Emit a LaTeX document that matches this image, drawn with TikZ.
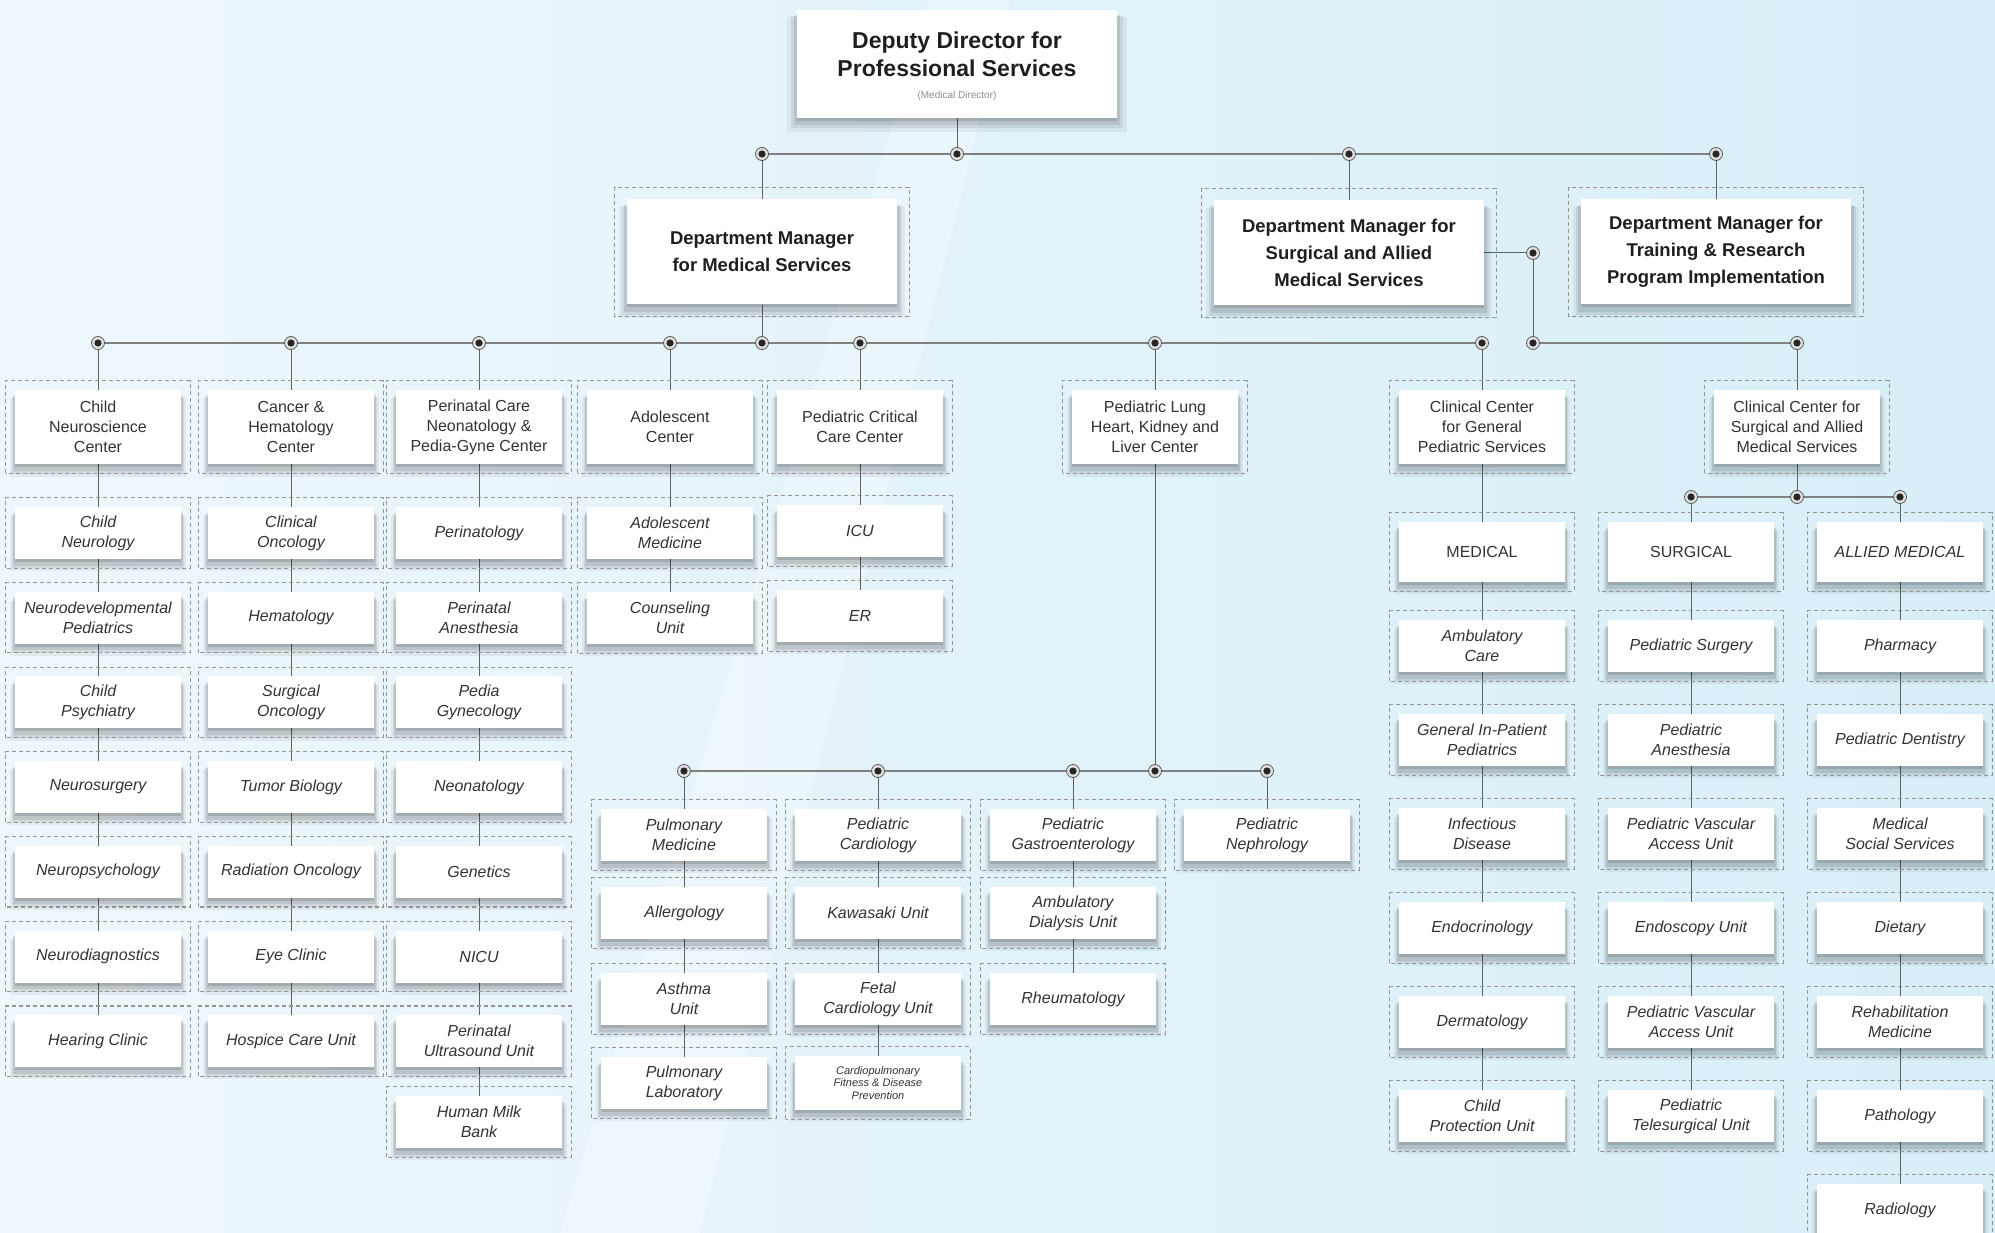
\documentclass[tikz,border=0pt]{standalone}
\usepackage{fontspec}
\setmainfont{Liberation Sans}
\usetikzlibrary{shadows}
\pgfdeclarelayer{bgl}
\pgfdeclarelayer{lines}
\pgfsetlayers{bgl,lines,main}
\definecolor{bgA}{HTML}{EEF7FB}
\definecolor{bgB}{HTML}{B9DEF0}
\definecolor{bgC}{HTML}{D8EEF7}
\newcommand\orgbox[4]{%
  \node[#1] (#2) at (#3) {#4};
  \draw[frame] ([shift={(-9pt,-9pt)}]#2.south west) rectangle ([shift={(9pt,9pt)}]#2.north east);}
\begin{document}
\begin{tikzpicture}[x=1pt,y=-1pt,
  shadowed/.style={
    general shadow={shadow xshift=0pt,shadow yshift=-10pt,shadow scale=1.06,opacity=0.05,fill=black},
    general shadow={shadow xshift=0pt,shadow yshift=-8pt,shadow scale=1.04,opacity=0.07,fill=black},
    general shadow={shadow xshift=0pt,shadow yshift=-6pt,shadow scale=1.02,opacity=0.09,fill=black},
    general shadow={shadow xshift=0pt,shadow yshift=-3pt,opacity=0.12,fill=black}},
  frame/.style={draw=black!42,line width=1.1pt,dash pattern=on 4pt off 3pt},
  basebox/.style={shadowed,fill=white,minimum width=166pt,align=center,inner sep=2pt,text=black!80},
  hdr/.style={basebox,minimum height=74pt,font=\fontsize{16}{20}\selectfont},
  sub/.style={basebox,minimum height=52pt,font=\fontsize{16}{20}\selectfont\itshape},
  cat/.style={basebox,minimum height=60pt,font=\fontsize{16}{20}\selectfont},
  tiny/.style={basebox,minimum height=54pt,font=\fontsize{11}{12.5}\selectfont\itshape},
  mgr/.style={shadowed,fill=white,minimum width=270pt,minimum height=105pt,align=center,text=black!88,font=\fontsize{18.5}{27}\selectfont\bfseries},
  topbox/.style={shadowed,fill=white,minimum width=320pt,minimum height=108pt,inner sep=0pt},
  dot/.style={circle,draw=black!65,line width=0.8pt,fill=black!12,minimum size=13pt,inner sep=0pt,
    path picture={\fill[black!85] (path picture bounding box.center) circle (3.6pt);}},
  hline/.style={draw=black!50,line width=1.6pt},
  vline/.style={draw=black!62,line width=1pt}]
\begin{pgfonlayer}{bgl}
\shade[left color=bgA,middle color=bgB,right color=bgC] (0,0) rectangle (1995,1233);
\fill[white,opacity=0.25] (930,0) -- (1010,0) -- (700,1233) -- (560,1233) -- cycle;
\end{pgfonlayer}
\useasboundingbox (0,0) rectangle (1995,1233);

% ---------- top ----------
\node[topbox] (top) at (957,64) {};
\node[font=\fontsize{23}{28}\selectfont\bfseries,text=black!88,align=center] (toptxt) at (957,54) {Deputy Director for\\Professional Services};
\node[font=\fontsize{10}{12}\selectfont,text=black!45] (topsub) at (957,96) {(Medical Director)};

\node[dot] (dT) at (957,154) {};
\node[dot] (d1) at (762,154) {};
\node[dot] (d3) at (1349,154) {};
\node[dot] (d4) at (1716,154) {};

% ---------- managers ----------
\node[mgr] (mMed) at (762,252) {Department Manager\\for Medical Services};
\node[mgr] (mSur) at (1349,253) {Department Manager for\\Surgical and Allied\\Medical Services};
\node[mgr] (mTr) at (1716,252) {Department Manager for\\Training \& Research\\Program Implementation};
\foreach \n in {mMed,mSur,mTr}
  \draw[frame] ([shift={(-12pt,-12pt)}]\n.south west) rectangle ([shift={(12pt,12pt)}]\n.north east);

\node[dot] (dS1) at (1533,253) {};
\node[dot] (dS2) at (1533,343) {};

% ---------- medical line dots ----------
\node[dot] (dA) at (98,343) {};
\node[dot] (dB) at (291,343) {};
\node[dot] (dC) at (479,343) {};
\node[dot] (dD) at (670,343) {};
\node[dot] (dM) at (762,343) {};
\node[dot] (dE) at (860,343) {};
\node[dot] (dL) at (1155,343) {};
\node[dot] (dG) at (1482,343) {};
\node[dot] (dCS) at (1797,343) {};

% ---------- headers ----------
\orgbox{hdr}{a0}{98,427}{Child\\Neuroscience\\Center}
\orgbox{hdr}{b0}{291,427}{Cancer \&\\Hematology\\Center}
\orgbox{hdr}{c0}{479,427}{Perinatal Care\\Neonatology \&\\Pedia-Gyne Center}
\orgbox{hdr}{e0}{670,427}{Adolescent\\Center}
\orgbox{hdr}{f0}{860,427}{Pediatric Critical\\Care Center}
\orgbox{hdr}{l0}{1155,427}{Pediatric Lung\\Heart, Kidney and\\Liver Center}
\orgbox{hdr}{g0}{1482,427}{Clinical Center\\for General\\Pediatric Services}
\orgbox{hdr}{s0}{1797,427}{Clinical Center for\\Surgical and Allied\\Medical Services}

% ---------- column A ----------
\foreach \k/\t in {1/{Child\\Neurology},2/{Neurodevelopmental\\Pediatrics},3/{Child\\Psychiatry},4/{Neurosurgery},5/{Neuropsychology},6/{Neurodiagnostics},7/{Hearing Clinic}}
  {\orgbox{sub}{a\k}{98,{533+84.7*(\k-1)}}{\t}}
% ---------- column B ----------
\foreach \k/\t in {1/{Clinical\\Oncology},2/{Hematology},3/{Surgical\\Oncology},4/{Tumor Biology},5/{Radiation Oncology},6/{Eye Clinic},7/{Hospice Care Unit}}
  {\orgbox{sub}{b\k}{291,{533+84.7*(\k-1)}}{\t}}
% ---------- column C ----------
\foreach \k/\t in {1/{Perinatology},2/{Perinatal\\Anesthesia},3/{Pedia\\Gynecology},4/{Neonatology},5/{Genetics},6/{NICU},7/{Perinatal\\Ultrasound Unit}}
  {\orgbox{sub}{c\k}{479,{533+84.7*(\k-1)}}{\t}}
\orgbox{sub}{c8}{479,1122}{Human Milk\\Bank}
% ---------- columns D, E ----------
\orgbox{sub}{e1}{670,533}{Adolescent\\Medicine}
\orgbox{sub}{e2}{670,618}{Counseling\\Unit}
\orgbox{sub}{f1}{860,531}{ICU}
\orgbox{sub}{f2}{860,616}{ER}

% ---------- lung sub-centers ----------
\node[dot] (dP1) at (684,771) {};
\node[dot] (dP2) at (878,771) {};
\node[dot] (dP3) at (1073,771) {};
\node[dot] (dL2) at (1155,771) {};
\node[dot] (dP4) at (1267,771) {};
\orgbox{sub}{p1}{684,835}{Pulmonary\\Medicine}
\orgbox{sub}{p2}{684,913}{Allergology}
\orgbox{sub}{p3}{684,999}{Asthma\\Unit}
\orgbox{sub}{p4}{684,1083}{Pulmonary\\Laboratory}
\orgbox{sub}{q1}{878,835}{Pediatric\\Cardiology}
\orgbox{sub}{q2}{878,913}{Kawasaki Unit}
\orgbox{sub}{q3}{878,999}{Fetal\\Cardiology Unit}
\orgbox{tiny}{q4}{878,1083}{Cardiopulmonary\\Fitness \& Disease\\Prevention}
\orgbox{sub}{r1}{1073,835}{Pediatric\\Gastroenterology}
\orgbox{sub}{r2}{1073,913}{Ambulatory\\Dialysis Unit}
\orgbox{sub}{r3}{1073,999}{Rheumatology}
\orgbox{sub}{n1}{1267,835}{Pediatric\\Nephrology}

% ---------- right side ----------
\node[dot] (dX1) at (1691,497) {};
\node[dot] (dX2) at (1797,497) {};
\node[dot] (dX3) at (1900,497) {};
\orgbox{cat}{g1}{1482,552}{MEDICAL}
\orgbox{cat}{u1}{1691,552}{SURGICAL}
\orgbox{cat}{v1}{1900,552}{\itshape ALLIED MEDICAL}
\foreach \k/\t in {2/{Ambulatory\\Care},3/{General In-Patient\\Pediatrics},4/{Infectious\\Disease},5/{Endocrinology},6/{Dermatology},7/{Child\\Protection Unit}}
  {\orgbox{sub}{g\k}{1482,{552+94*(\k-1)}}{\t}}
\foreach \k/\t in {2/{Pediatric Surgery},3/{Pediatric\\Anesthesia},4/{Pediatric Vascular\\Access Unit},5/{Endoscopy Unit},6/{Pediatric Vascular\\Access Unit},7/{Pediatric\\Telesurgical Unit}}
  {\orgbox{sub}{u\k}{1691,{552+94*(\k-1)}}{\t}}
\foreach \k/\t in {2/{Pharmacy},3/{Pediatric Dentistry},4/{Medical\\Social Services},5/{Dietary},6/{Rehabilitation\\Medicine},7/{Pathology},8/{Radiology}}
  {\orgbox{sub}{v\k}{1900,{552+94*(\k-1)}}{\t}}

% ---------- connectors ----------
\begin{pgfonlayer}{lines}
\draw[vline] (top) -- (dT);
\draw[hline] (d1.center) -- (d4.center);
\draw[vline] (d1) -- (mMed);
\draw[vline] (d3) -- (mSur);
\draw[vline] (d4) -- (mTr);
\draw[vline] (mMed) -- (dM);
\draw[vline] (mSur) -- (dS1);
\draw[vline] (dS1) -- (dS2);
\draw[hline] (dA.center) -- (dG.center);
\draw[hline] (dS2.center) -- (dCS.center);
\draw[vline] (dA.center) -- (a7.center);
\draw[vline] (dB.center) -- (b7.center);
\draw[vline] (dC.center) -- (c8.center);
\draw[vline] (dD.center) -- (e2.center);
\draw[vline] (dE.center) -- (f2.center);
\draw[vline] (dL.center) -- (dL2.center);
\draw[hline] (dP1.center) -- (dP4.center);
\draw[vline] (dP1.center) -- (p4.center);
\draw[vline] (dP2.center) -- (q4.center);
\draw[vline] (dP3.center) -- (r3.center);
\draw[vline] (dP4.center) -- (n1.center);
\draw[vline] (dG.center) -- (g7.center);
\draw[vline] (dCS.center) -- (dX2.center);
\draw[hline] (dX1.center) -- (dX3.center);
\draw[vline] (dX1.center) -- (u7.center);
\draw[vline] (dX3.center) -- (v8.center);
\end{pgfonlayer}
\end{tikzpicture}
\end{document}
